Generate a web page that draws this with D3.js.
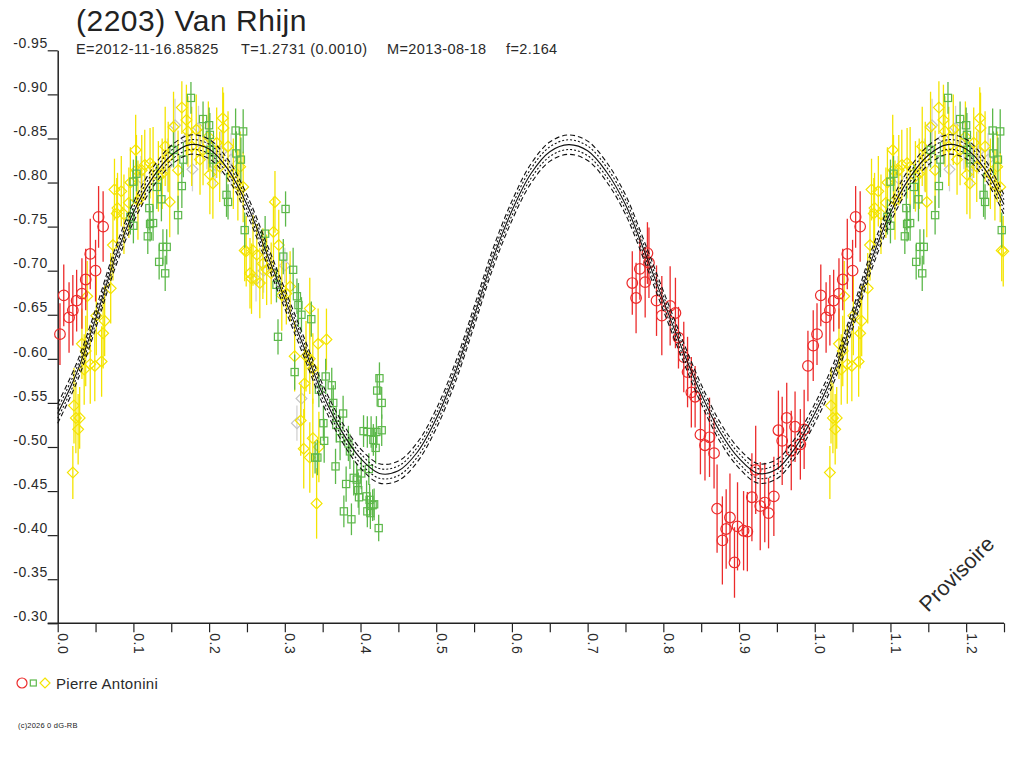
<!DOCTYPE html>
<html lang="fr">
<head>
<meta charset="UTF-8">
<title>(2203) Van Rhijn</title>
<style>
  body { margin: 0; background: #fff; }
  svg { display: block; font-family: "Liberation Sans", Arial, sans-serif; }
  .axis path, .axis line { stroke: #222; }
  .axis text { fill: #2a2a2a; font-size: 14px; letter-spacing: 0.5px; font-family: "Liberation Sans", Arial, sans-serif; }
</style>
</head>
<body>
<svg id="chart" width="1024" height="768"></svg>
<script src="https://cdn.jsdelivr.net/npm/d3@7/dist/d3.min.js"></script>
<script>
const title = "(2203) Van Rhijn";
const subtitle = ["E=2012-11-16.85825", "T=1.2731 (0.0010)", "M=2013-08-18", "f=2.164"];
const observer = "Pierre Antonini";
const watermark = "Provisoire";
const credit = "(c)2026 0 dG-RB";

const yTicks = [-0.95, -0.90, -0.85, -0.80, -0.75, -0.70, -0.65, -0.60, -0.55, -0.50, -0.45, -0.40, -0.35, -0.30];
const yTickLabels = ["-0.95", "-0.90", "-0.85", "-0.80", "-0.75", "-0.70", "-0.65", "-0.60", "-0.55", "-0.50", "-0.45", "-0.40", "-0.35", "-0.30"];
const xTicks = [0, 0.05, 0.1, 0.15, 0.2, 0.25, 0.3, 0.35, 0.4, 0.45, 0.5, 0.55, 0.6, 0.65, 0.7, 0.75, 0.8, 0.85, 0.9, 0.95, 1.0, 1.05, 1.1, 1.15, 1.2, 1.25];
const xTickLabels = ["0.0", "", "0.1", "", "0.2", "", "0.3", "", "0.4", "", "0.5", "", "0.6", "", "0.7", "", "0.8", "", "0.9", "", "1.0", "", "1.1", "", "1.2", ""];

// Fourier fit (centre curve), one full rotation
const curvePhase = [0, 0.025, 0.05, 0.075, 0.1, 0.125, 0.15, 0.175, 0.2, 0.225, 0.25, 0.275, 0.3, 0.325, 0.35, 0.375,
  0.4, 0.425, 0.45, 0.475, 0.5, 0.525, 0.55, 0.575, 0.6, 0.625, 0.65, 0.675, 0.7, 0.725, 0.75, 0.775, 0.8, 0.825,
  0.85, 0.875, 0.9, 0.925, 0.95, 0.975];
const curveMag = [-0.538, -0.584, -0.645, -0.712, -0.766, -0.805, -0.831, -0.843, -0.838, -0.815, -0.775, -0.722,
  -0.668, -0.614, -0.560, -0.518, -0.487, -0.470, -0.473, -0.494, -0.532, -0.584, -0.648, -0.714, -0.768, -0.810,
  -0.835, -0.843, -0.836, -0.812, -0.775, -0.722, -0.666, -0.611, -0.560, -0.517, -0.487, -0.470, -0.475, -0.500];
// the uncertainty curves sit above / below the fit
const curveOffsets = [-0.011, -0.0055, 0, 0.0055, 0.011];

const redPts = [
  [0.003,-0.628,0.035],[0.008,-0.672,0.035],[0.015,-0.647,0.04],[0.020,-0.655,0.04],[0.025,-0.666,0.035],
  [0.032,-0.674,0.04],[0.037,-0.690,0.035],[0.043,-0.719,0.04],[0.050,-0.700,0.035],[0.054,-0.761,0.035],
  [0.060,-0.750,0.04],
  [0.759,-0.686,0.036],[0.764,-0.669,0.04],[0.769,-0.702,0.035],[0.776,-0.687,0.04],[0.779,-0.720,0.035],
  [0.781,-0.709,0.04],[0.791,-0.666,0.04],[0.798,-0.649,0.045],[0.809,-0.660,0.045],[0.816,-0.652,0.04],
  [0.820,-0.624,0.035],[0.827,-0.602,0.04],[0.832,-0.585,0.04],[0.837,-0.562,0.04],[0.842,-0.557,0.035],
  [0.849,-0.514,0.045],[0.855,-0.502,0.04],[0.861,-0.511,0.045],[0.867,-0.493,0.04],[0.871,-0.430,0.05],
  [0.878,-0.394,0.05],[0.883,-0.407,0.045],[0.888,-0.420,0.05],[0.894,-0.369,0.04],[0.898,-0.410,0.05],
  [0.906,-0.405,0.045],[0.911,-0.404,0.045],[0.917,-0.443,0.05],[0.922,-0.474,0.05],[0.928,-0.433,0.05],
  [0.934,-0.437,0.045],[0.939,-0.425,0.04],[0.946,-0.444,0.045],[0.952,-0.519,0.045],[0.957,-0.507,0.05],
  [0.963,-0.533,0.04],[0.969,-0.496,0.045],[0.974,-0.523,0.04],[0.981,-0.503,0.04],[0.986,-0.520,0.045],
  [0.991,-0.592,0.04],[0.998,-0.615,0.04]
];

const yellowPts = [
  [0.020,-0.471,0.03],[0.0215,-0.547,0.043],[0.024,-0.533,0.04],[0.027,-0.520,0.04],[0.029,-0.533,0.035],
  [0.032,-0.617,0.04],[0.035,-0.588,0.04],[0.037,-0.609,0.04],[0.039,-0.671,0.04],[0.043,-0.594,0.045],
  [0.049,-0.592,0.04],[0.051,-0.649,0.045],[0.058,-0.597,0.04],[0.060,-0.629,0.04],[0.062,-0.643,0.04],
  [0.070,-0.680,0.04],[0.073,-0.729,0.04],[0.075,-0.792,0.035],[0.078,-0.765,0.04],[0.079,-0.771,0.04],
  [0.084,-0.790,0.04],[0.0875,-0.764,0.045],[0.094,-0.777,0.04],[0.096,-0.800,0.04],[0.103,-0.837,0.04],
  [0.104,-0.814,0.04],[0.106,-0.780,0.045],[0.111,-0.814,0.04],[0.115,-0.820,0.04],[0.122,-0.822,0.04],
  [0.126,-0.818,0.045],[0.133,-0.807,0.04],[0.138,-0.810,0.04],[0.142,-0.841,0.045],[0.146,-0.829,0.04],
  [0.148,-0.778,0.04],[0.153,-0.863,0.04],[0.159,-0.814,0.045],[0.164,-0.885,0.03],[0.170,-0.871,0.04],
  [0.172,-0.858,0.04],[0.177,-0.841,0.045],[0.183,-0.860,0.04],[0.188,-0.826,0.04],[0.192,-0.837,0.04],
  [0.199,-0.852,0.04],[0.201,-0.809,0.045],[0.205,-0.799,0.04],[0.210,-0.845,0.04],[0.214,-0.818,0.04],
  [0.218,-0.873,0.035],[0.219,-0.862,0.04],[0.225,-0.841,0.04],[0.232,-0.810,0.04],[0.238,-0.797,0.04],
  [0.241,-0.818,0.04],[0.245,-0.795,0.04],[0.247,-0.723,0.035],[0.249,-0.722,0.04],[0.254,-0.697,0.04],
  [0.256,-0.691,0.04],[0.258,-0.723,0.04],[0.263,-0.718,0.035],[0.267,-0.686,0.04],[0.271,-0.708,0.04],
  [0.276,-0.701,0.04],[0.282,-0.697,0.035],[0.285,-0.744,0.04],[0.287,-0.778,0.035],[0.292,-0.729,0.04],
  [0.296,-0.672,0.04],[0.302,-0.674,0.035],[0.307,-0.682,0.04],[0.313,-0.603,0.04],[0.321,-0.530,0.04],
  [0.325,-0.498,0.045],[0.326,-0.572,0.04],[0.328,-0.603,0.04],[0.333,-0.600,0.04],[0.333,-0.657,0.035],
  [0.333,-0.488,0.04],[0.337,-0.589,0.04],[0.337,-0.510,0.045],[0.342,-0.436,0.04],[0.344,-0.617,0.04],
  [0.345,-0.500,0.04],[0.355,-0.622,0.035]
];

const greenPts = [
  [0.096,-0.761,0.02],[0.100,-0.751,0.02],[0.100,-0.801,0.025],[0.104,-0.810,0.02],[0.119,-0.739,0.02],
  [0.121,-0.771,0.025],[0.122,-0.753,0.02],[0.126,-0.754,0.02],[0.131,-0.795,0.025],[0.134,-0.710,0.02],
  [0.137,-0.781,0.025],[0.139,-0.727,0.02],[0.142,-0.697,0.02],[0.144,-0.727,0.02],[0.153,-0.837,0.02],
  [0.159,-0.763,0.022],[0.164,-0.796,0.025],[0.166,-0.826,0.02],[0.176,-0.896,0.018],[0.192,-0.872,0.02],
  [0.200,-0.865,0.02],[0.201,-0.854,0.025],[0.201,-0.837,0.02],[0.205,-0.826,0.02],[0.223,-0.786,0.025],
  [0.225,-0.778,0.02],[0.235,-0.859,0.025],[0.236,-0.833,0.025],[0.242,-0.826,0.025],[0.245,-0.858,0.025],
  [0.247,-0.746,0.02],[0.274,-0.742,0.02],[0.289,-0.684,0.02],[0.291,-0.625,0.02],[0.298,-0.716,0.02],
  [0.301,-0.770,0.02],[0.311,-0.701,0.025],[0.313,-0.585,0.02],[0.316,-0.671,0.02],[0.318,-0.661,0.025],
  [0.322,-0.650,0.02],[0.335,-0.645,0.02],[0.340,-0.488,0.018],[0.343,-0.488,0.02],[0.345,-0.565,0.02],
  [0.351,-0.527,0.02],[0.352,-0.507,0.025],[0.354,-0.580,0.02],[0.362,-0.570,0.02],[0.364,-0.550,0.02],
  [0.367,-0.478,0.02],[0.368,-0.525,0.02],[0.373,-0.510,0.025],[0.377,-0.538,0.02],[0.378,-0.427,0.018],
  [0.381,-0.458,0.02],[0.384,-0.504,0.02],[0.386,-0.495,0.02],[0.388,-0.418,0.018],[0.391,-0.465,0.02],
  [0.395,-0.463,0.018],[0.397,-0.451,0.02],[0.398,-0.443,0.02],[0.401,-0.470,0.018],[0.404,-0.518,0.018],
  [0.408,-0.444,0.018],[0.409,-0.517,0.018],[0.409,-0.427,0.018],[0.411,-0.475,0.018],[0.412,-0.440,0.018],
  [0.413,-0.425,0.018],[0.414,-0.517,0.018],[0.416,-0.434,0.018],[0.417,-0.508,0.018],[0.418,-0.435,0.018],
  [0.420,-0.499,0.018],[0.421,-0.517,0.018],[0.422,-0.564,0.018],[0.424,-0.408,0.015],[0.425,-0.578,0.018],
  [0.428,-0.519,0.018],[0.428,-0.550,0.018]
];

const greyPts = [
  [0.110,-0.805,0.025],[0.145,-0.820,0.03],[0.155,-0.865,0.03],[0.170,-0.850,0.03],[0.178,-0.815,0.025],
  [0.186,-0.862,0.025],[0.197,-0.845,0.03],[0.208,-0.820,0.025],[0.216,-0.835,0.025],[0.229,-0.826,0.03],
  [0.262,-0.690,0.025],[0.272,-0.700,0.025],[0.300,-0.706,0.02],[0.316,-0.527,0.02],[0.322,-0.555,0.02]
];

// ---- layout ----
const svg = d3.select("#chart");
const x0 = 57.7, x1 = 1004, yTop = 50.3, yBottom = 623.3;

const x = d3.scaleLinear().domain([0, 1.25]).range([x0, x1]);
const y = d3.scaleLinear().domain([-0.30, -0.95]).range([yBottom, yTop]);

// phase plot repeats the first quarter after phase 1
function wrap(points) {
  const out = points.slice();
  points.forEach(p => { if (p[0] <= 0.25) out.push([p[0] + 1, p[1], p[2]]); });
  return out;
}

// ---- titles ----
svg.append("text").attr("x", 76).attr("y", 31)
  .attr("font-size", 30).attr("letter-spacing", 0.5).attr("fill", "#222")
  .text(title);

const subX = [76, 241, 387, 506];
svg.selectAll("text.sub").data(subtitle).join("text")
  .attr("class", "sub")
  .attr("x", (d, i) => subX[i]).attr("y", 54)
  .attr("font-size", 14.5).attr("letter-spacing", 0.4).attr("fill", "#2a2a2a")
  .text(d => d);

// ---- axes ----
const yAxis = d3.axisLeft(y).tickValues(yTicks).tickSize(10).tickSizeOuter(0)
  .tickFormat((d, i) => yTickLabels[i]);
const gy = svg.append("g").attr("class", "axis").attr("transform", `translate(${x0},0)`).call(yAxis);
gy.select(".domain").attr("stroke-width", 1.5);
gy.selectAll(".tick line").attr("stroke-width", 1.2);
gy.selectAll(".tick text").attr("x", -10).attr("dy", "-0.2em").attr("text-anchor", "end");

const xAxis = d3.axisBottom(x).tickValues(xTicks).tickSize(9).tickSizeOuter(0)
  .tickFormat((d, i) => xTickLabels[i]);
const gx = svg.append("g").attr("class", "axis").attr("transform", `translate(0,${yBottom})`).call(xAxis);
gx.select(".domain").attr("d", `M${x0 - 10},0H${x1}`).attr("stroke-width", 1.5);
gx.selectAll(".tick line").attr("stroke-width", 1.2);
gx.selectAll(".tick text")
  .attr("x", 0).attr("y", 0).attr("dy", 0)
  .attr("text-anchor", "start")
  .attr("transform", "translate(0,10) rotate(90)");
svg.selectAll(".axis").attr("font-family", null).attr("font-size", null);

// ---- data points ----
const pts = svg.append("g").attr("fill", "none");

function drawSeries(data, color, barColor, shape) {
  const g = pts.append("g");
  const rows = wrap(data);
  g.selectAll("line").data(rows).join("line")
    .attr("x1", d => x(d[0])).attr("x2", d => x(d[0]))
    .attr("y1", d => y(d[1] - d[2])).attr("y2", d => y(d[1] + d[2]))
    .attr("stroke", barColor).attr("stroke-width", 1.3);
  if (shape === "circle") {
    g.selectAll("circle").data(rows).join("circle")
      .attr("cx", d => x(d[0])).attr("cy", d => y(d[1])).attr("r", 5.3)
      .attr("stroke", color).attr("stroke-width", 1.2);
  } else if (shape === "square") {
    g.selectAll("rect").data(rows).join("rect")
      .attr("x", d => x(d[0]) - 3.6).attr("y", d => y(d[1]) - 3.6)
      .attr("width", 7.2).attr("height", 7.2)
      .attr("stroke", color).attr("stroke-width", 1.2);
  } else {
    g.selectAll("path").data(rows).join("path")
      .attr("d", d => {
        const cx = x(d[0]), cy = y(d[1]), r = 5.4;
        return `M${cx},${cy - r}L${cx + r},${cy}L${cx},${cy + r}L${cx - r},${cy}Z`;
      })
      .attr("stroke", color).attr("stroke-width", 1.2);
  }
}

drawSeries(greyPts, "#c4c4c4", "#d2d2d2", "diamond");
drawSeries(yellowPts, "#f4e400", "#f4e400", "diamond");
drawSeries(greenPts, "#5cb84a", "#5cb84a", "square");
drawSeries(redPts, "#ec2b2b", "#ec2b2b", "circle");

// ---- fitted light curves ----
const fit = curvePhase.map((p, i) => [p, curveMag[i]]);
const fitRows = fit.concat(fit.filter(d => d[0] <= 0.25).map(d => [d[0] + 1, d[1]]));
const line = d3.line().x(d => x(d[0])).y(d => y(d[1])).curve(d3.curveCatmullRom);
const dashes = { "-0.011": "5,3", "-0.0055": "2,2", "0": null, "0.0055": "2,2", "0.011": "5,3" };

svg.append("g").selectAll("path").data(curveOffsets).join("path")
  .attr("d", off => line(fitRows.map(d => [d[0], d[1] - off])))
  .attr("fill", "none")
  .attr("stroke", "#111")
  .attr("stroke-width", 1.1)
  .attr("stroke-dasharray", off => dashes[String(off)]);

// ---- watermark ----
svg.append("text")
  .attr("transform", "translate(928,613) rotate(-45)")
  .attr("font-size", 21.5).attr("fill", "#2a2a2a")
  .text(watermark);

// ---- legend ----
const lg = svg.append("g").attr("fill", "none").attr("stroke-width", 1.2);
lg.append("circle").attr("cx", 22).attr("cy", 683).attr("r", 5).attr("stroke", "#ec2b2b");
lg.append("rect").attr("x", 30.3).attr("y", 680).attr("width", 6).attr("height", 6).attr("stroke", "#5cb84a");
lg.append("path").attr("d", "M45,678L50,683L45,688L40,683Z").attr("stroke", "#f4e400");
svg.append("text").attr("x", 56).attr("y", 688.5)
  .attr("font-size", 15).attr("fill", "#2a2a2a").attr("letter-spacing", 0.3)
  .text(observer);

svg.append("text").attr("x", 18).attr("y", 728)
  .attr("font-size", 7.5).attr("letter-spacing", 0.2).attr("fill", "#222")
  .text(credit);
</script>
</body>
</html>
